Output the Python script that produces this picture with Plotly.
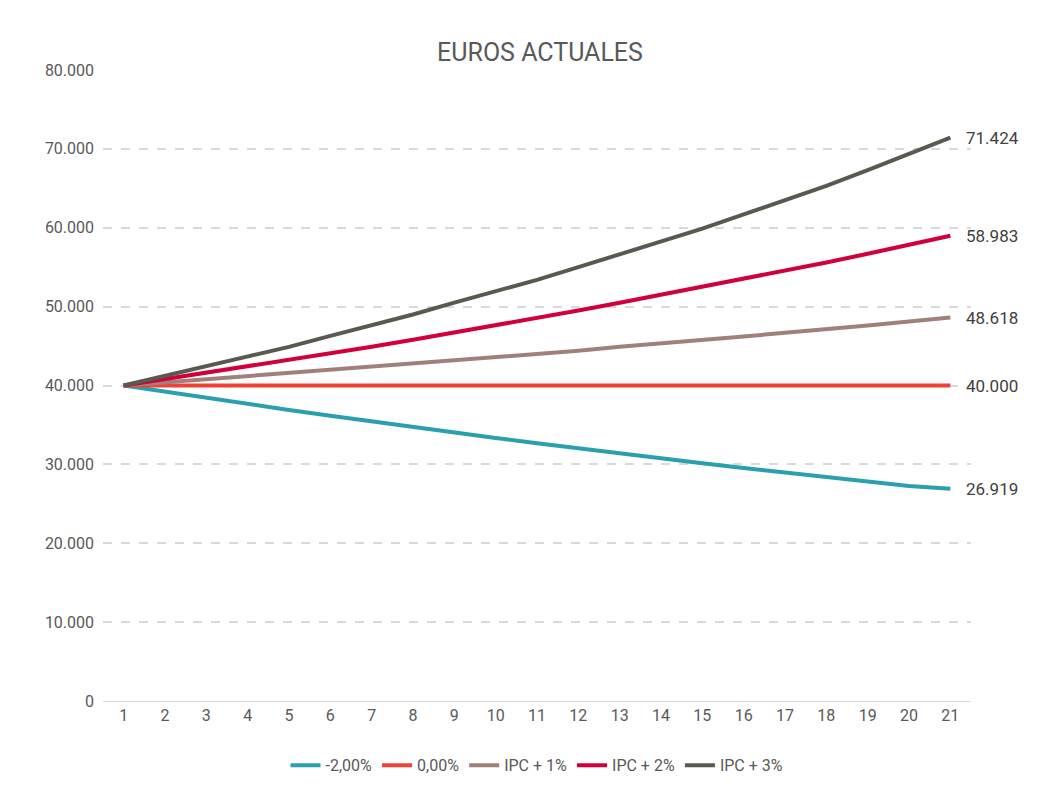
import plotly.graph_objects as go

years = list(range(1, 22))
names = ["-2,00%", "0,00%", "IPC + 1%", "IPC + 2%", "IPC + 3%"]
colors = ["#2a9fad", "#ef4136", "#a0807a", "#d2003a", "#575a4e"]
s_m2 = [40000, 39200, 38416, 37648, 36895, 36157, 35434, 34725, 34031, 33350, 32683,
        32029, 31389, 30761, 30146, 29543, 28952, 28373, 27805, 27249, 26919]
s_0 = [40000] * 21
s_1 = [40000, 40400, 40800, 41200, 41600, 42000, 42300, 42800, 43200, 43600, 44000,
       44400, 44900, 45300, 45800, 46200, 46700, 47100, 47600, 48100, 48618]
s_2 = [40000, 40800, 41600, 42400, 43200, 44100, 44900, 45800, 46700, 47600, 48600,
       49500, 50500, 51500, 52500, 53500, 54600, 55600, 56700, 57800, 58983]
s_3 = [40000, 41200, 42400, 43600, 44900, 46300, 47600, 49000, 50500, 51900, 53400,
       55000, 56600, 58200, 59900, 61700, 63500, 65300, 67300, 69300, 71424]
series = [s_m2, s_0, s_1, s_2, s_3]

fig = go.Figure()
for n, c, s in zip(names, colors, series):
    fig.add_trace(go.Scatter(x=years, y=s, name=n, mode="lines",
                             line=dict(color=c, width=4)))
for s in series:
    fig.add_annotation(x=years[-1], y=s[-1], text=f"{s[-1]:,}".replace(",", "."),
                       showarrow=False, xanchor="left", xshift=14,
                       font=dict(size=17, color="#404040"))

fig.update_layout(
    width=1064, height=792, paper_bgcolor="white", plot_bgcolor="white",
    separators=",.",
    font=dict(family="Roboto", color="#595959", size=16),
    title=dict(text="EUROS ACTUALES", x=0.5, xanchor="center", y=0.955,
               font=dict(size=25, color="#595959")),
    margin=dict(l=95, r=101, t=62, b=99),
    legend=dict(orientation="h", x=0.5, xanchor="center", y=-0.075, yanchor="top",
                font=dict(size=16)),
    xaxis=dict(tickmode="array", tickvals=years, range=[0.5, 21.5],
               showline=True, linecolor="#d9d9d9", ticks="", showgrid=False),
    yaxis=dict(range=[0, 80000], dtick=10000, tickformat=",d",
               showgrid=True, gridcolor="#d9d9d9", griddash="dash", gridwidth=1.5,
               zeroline=False, ticks="", ticksuffix="  "),
)
fig.write_html("out.html")
